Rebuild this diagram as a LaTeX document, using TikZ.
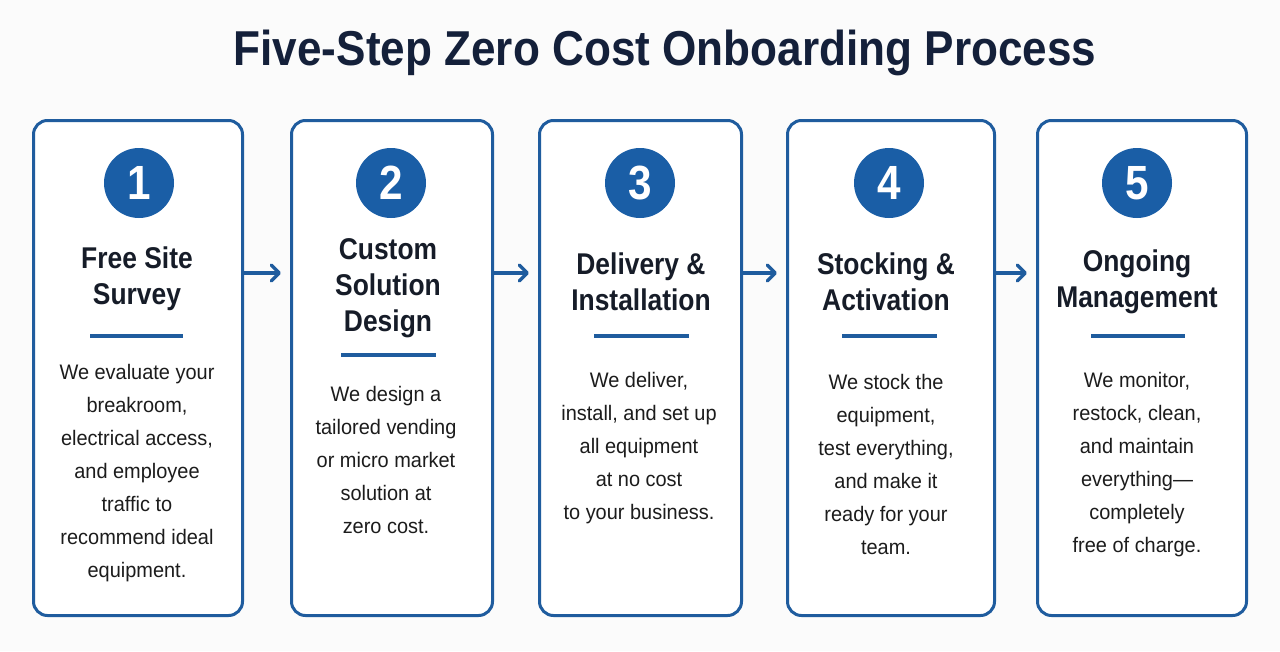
\documentclass[tikz,border=0pt]{standalone}
\usepackage{fontspec}
\setmainfont{Liberation Sans}
\newfontfamily\bodyfont{Liberation Sans}[FakeStretch=0.95]
\newfontfamily\headfont{Liberation Sans}[FakeStretch=0.88]
\newfontfamily\titlefont{Liberation Sans}[FakeStretch=0.90]
\usetikzlibrary{arrows.meta}
\definecolor{bblue}{HTML}{1F5C9E}
\definecolor{cblue}{HTML}{1A5EA6}
\definecolor{navy}{HTML}{14203A}
\definecolor{ink}{HTML}{161C28}
\definecolor{bodyink}{HTML}{1C1C1C}
\definecolor{bg}{HTML}{FBFBFB}
\begin{document}
\begin{tikzpicture}[x=1pt,y=-1pt,
  card/.style={draw=bblue, line width=3pt, rounded corners=14pt, fill=white, minimum height=495pt, inner sep=0pt},
  num/.style={circle, fill=cblue, minimum size=70pt, inner sep=0pt, text=white, font=\headfont\bfseries\fontsize{48}{48}\selectfont},
  head/.style={align=center, text=ink, font=\headfont\bfseries\fontsize{30}{36}\selectfont},
  body/.style={align=center, text=bodyink, font=\bodyfont\fontsize{21}{33}\selectfont},
  rule/.style={draw=bblue, line width=4pt},
  arr/.style={draw=bblue, line width=3.5pt, shorten >=9pt, -{Straight Barb[length=8pt,width=16pt,round]}},
  titlestyle/.style={text=navy, font=\titlefont\bfseries\fontsize{49}{55}\selectfont}
]
\fill[bg] (0,0) rectangle (1280,651);
\useasboundingbox (0,0) rectangle (1280,651);

\node[titlestyle] (title) at (665,53) {Five-Step Zero Cost Onboarding Process};

% cards
\node[card, minimum width=209pt] (b1) at (138,368) {};
\node[card, minimum width=201pt] (b2) at (392,368) {};
\node[card, minimum width=202pt] (b3) at (640.5,368) {};
\node[card, minimum width=207pt] (b4) at (891,368) {};
\node[card, minimum width=209pt] (b5) at (1142,368) {};

% numbers
\node[num] (n1) at (139,183) {1};
\node[num] (n2) at (391,183) {2};
\node[num] (n3) at (640,183) {3};
\node[num] (n4) at (889,183) {4};
\node[num] (n5) at (1137,183) {5};

% headings
\node[head] (h1) at (137,279) {Free Site\\Survey};
\node[head] (h2) at (388,288) {Custom\\Solution\\Design};
\node[head] (h3) at (641,281.5) {Delivery \&\\Installation};
\node[head] (h4) at (886,281.5) {Stocking \&\\Activation};
\node[head] (h5) at (1137,282) {Ongoing\\Management};

% rules
\draw[rule] (90,336) -- (183,336);
\draw[rule] (341,355) -- (436,355);
\draw[rule] (594,336) -- (689,336);
\draw[rule] (842,336) -- (937,336);
\draw[rule] (1091,336) -- (1185,336);

% bodies
\node[body] (t1) at (137,473.5) {We evaluate your\\breakroom,\\electrical access,\\and employee\\traffic to\\recommend ideal\\equipment.};
\node[body] (t2) at (386,459.5) {We design a\\tailored vending\\or micro market\\solution at\\zero cost.};
\node[body] (t3) at (639,448.5) {We deliver,\\install, and set up\\all equipment\\at no cost\\to your business.};
\node[body] (t4) at (886,464.5) {We stock the\\equipment,\\test everything,\\and make it\\ready for your\\team.};
\node[body] (t5) at (1137,464.5) {We monitor,\\restock, clean,\\and maintain\\everything—\\completely\\free of charge.};

% arrows
\coordinate (ay) at (0,273);
\draw[arr] (b1.east |- ay) -- (b2.west |- ay);
\draw[arr] (b2.east |- ay) -- (b3.west |- ay);
\draw[arr] (b3.east |- ay) -- (b4.west |- ay);
\draw[arr] (b4.east |- ay) -- (b5.west |- ay);
\end{tikzpicture}
\end{document}
